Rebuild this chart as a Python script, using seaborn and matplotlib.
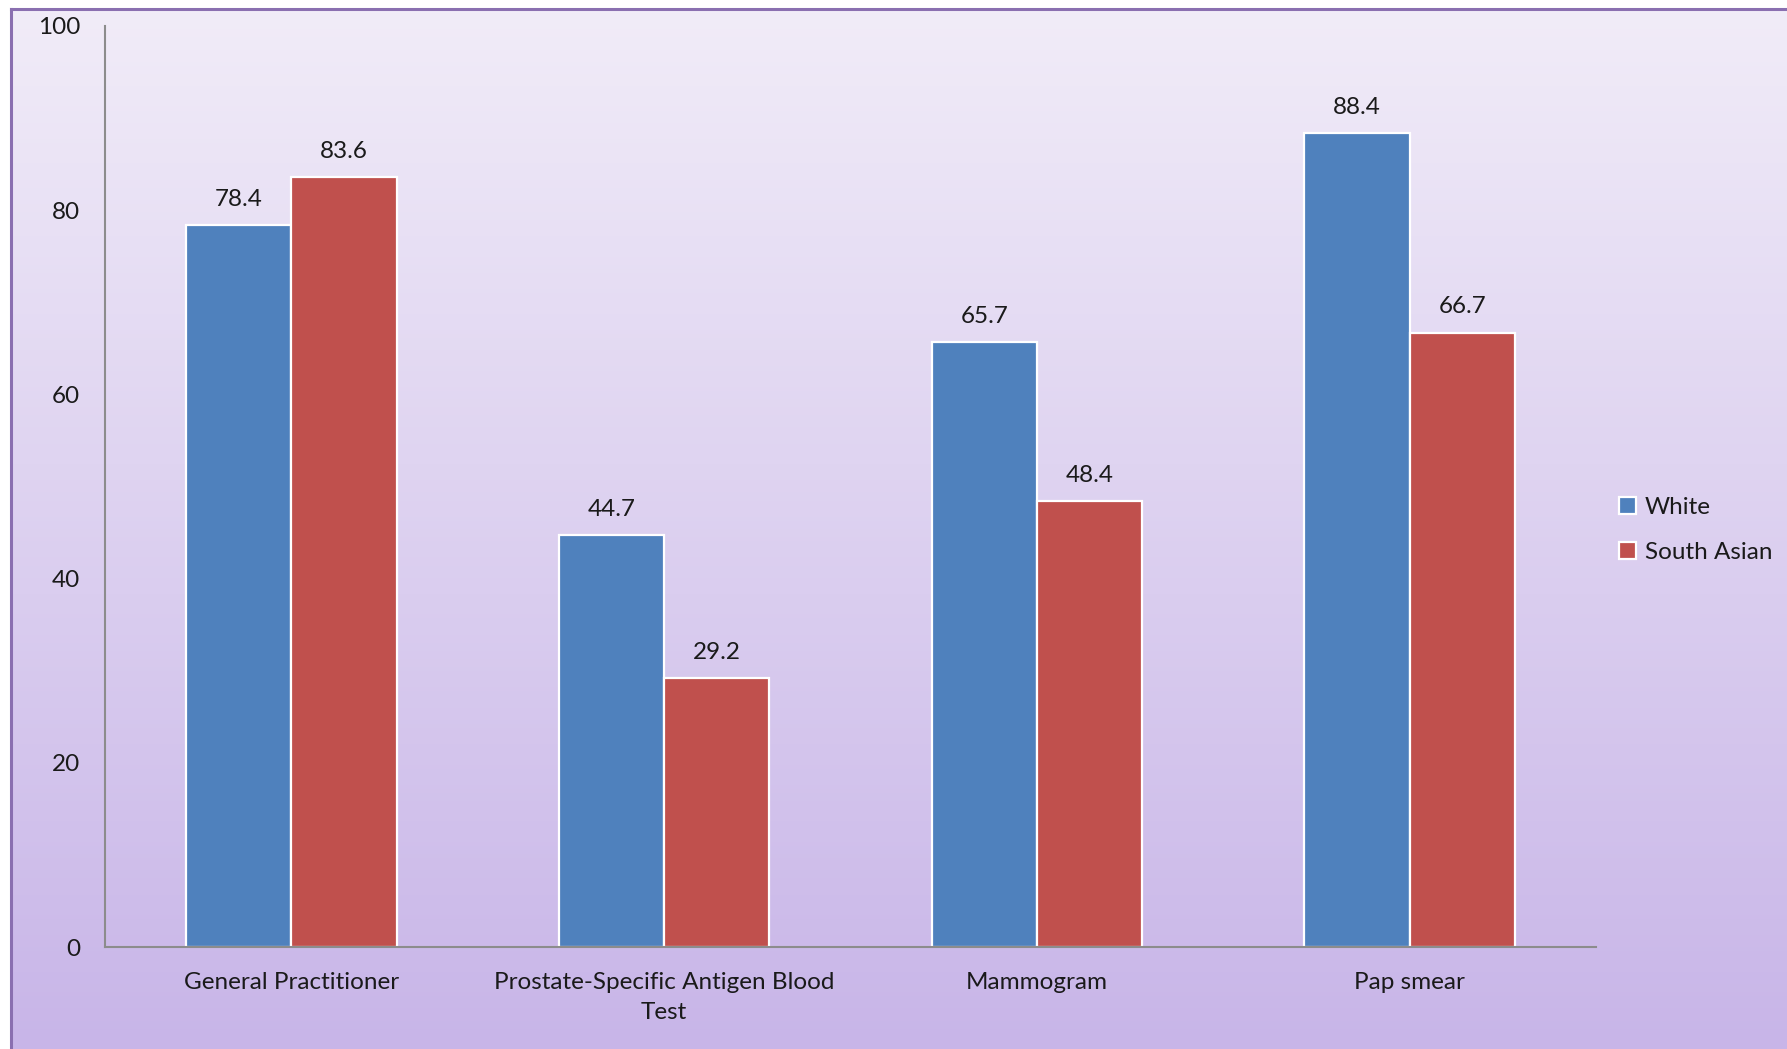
import matplotlib
matplotlib.use("Agg")
import matplotlib.pyplot as plt
import numpy as np
import pandas as pd
import seaborn as sns

# data
categories = ["General Practitioner", "Prostate-Specific Antigen Blood\nTest", "Mammogram", "Pap smear"]
groups = ["White", "South Asian"]
white = [78.4, 44.7, 65.7, 88.4]
south_asian = [83.6, 29.2, 48.4, 66.7]
yticks = [0, 20, 40, 60, 80, 100]

df = pd.DataFrame({
    "Category": categories * 2,
    "Group": [groups[0]] * len(categories) + [groups[1]] * len(categories),
    "Value": white + south_asian,
})

sns.set_style("white")
plt.rcParams["font.family"] = ["Lato", "DejaVu Sans"]
FS = 17.5

W, H = 1787, 1049
fig = plt.figure(figsize=(W / 100, H / 100), dpi=100)
fig.patch.set_facecolor("white")

# gradient background panel with purple frame on top/left
bg = fig.add_axes([11 / W, 0, 1 - 11 / W, 1 - 9 / H], zorder=-1)
top = np.array([0xF1, 0xEC, 0xF8]) / 255
bot = np.array([0xC8, 0xB5, 0xE8]) / 255
t = np.linspace(0, 1, 256)[:, None]
grad = (top[None, :] * (1 - t) + bot[None, :] * t)[:, None, :]
bg.imshow(grad, aspect="auto", extent=[0, 1, 0, 1])
bg.set_xticks([])
bg.set_yticks([])
for side in ["right", "bottom"]:
    bg.spines[side].set_visible(False)
for side in ["left", "top"]:
    bg.spines[side].set_color("#8A6FB0")
    bg.spines[side].set_linewidth(2.2)

ax = fig.add_axes([105 / W, 1 - 947 / H, (1596 - 105) / W, (947 - 26) / H])
ax.patch.set_alpha(0)

sns.barplot(
    data=df, x="Category", y="Value", hue="Group",
    palette=["#4F81BD", "#C0504D"], saturation=1, width=0.565, gap=0,
    edgecolor="white", linewidth=1.6, errorbar=None, ax=ax,
)

for container in ax.containers:
    ax.bar_label(container, fmt="%.1f", padding=11, fontsize=FS, color="#1a1a1a")

ax.set_ylim(0, 100)
ax.set_yticks(yticks)
ax.set_xlim(-0.5, len(categories) - 0.5)
ax.set_xlabel("")
ax.set_ylabel("")
ax.tick_params(axis="y", length=0, pad=18, labelsize=FS, labelcolor="#1a1a1a")
ax.tick_params(axis="x", length=0, pad=18, labelsize=FS, labelcolor="#1a1a1a")
for lbl in ax.get_xticklabels():
    lbl.set_linespacing(1.55)
for side in ["right", "top"]:
    ax.spines[side].set_visible(False)
for side in ["left", "bottom"]:
    ax.spines[side].set_color("#8C8C8C")
    ax.spines[side].set_linewidth(1.5)

leg = ax.legend(
    loc="center left", bbox_to_anchor=(1619 / W, 1 - 530 / H),
    bbox_transform=fig.transFigure, frameon=False, fontsize=FS, borderpad=0,
    borderaxespad=0, handlelength=0.7, handleheight=0.7, handletextpad=0.35,
    labelspacing=1.0,
)
for txt in leg.get_texts():
    txt.set_color("#1a1a1a")

fig.savefig("out.png", dpi=100)
